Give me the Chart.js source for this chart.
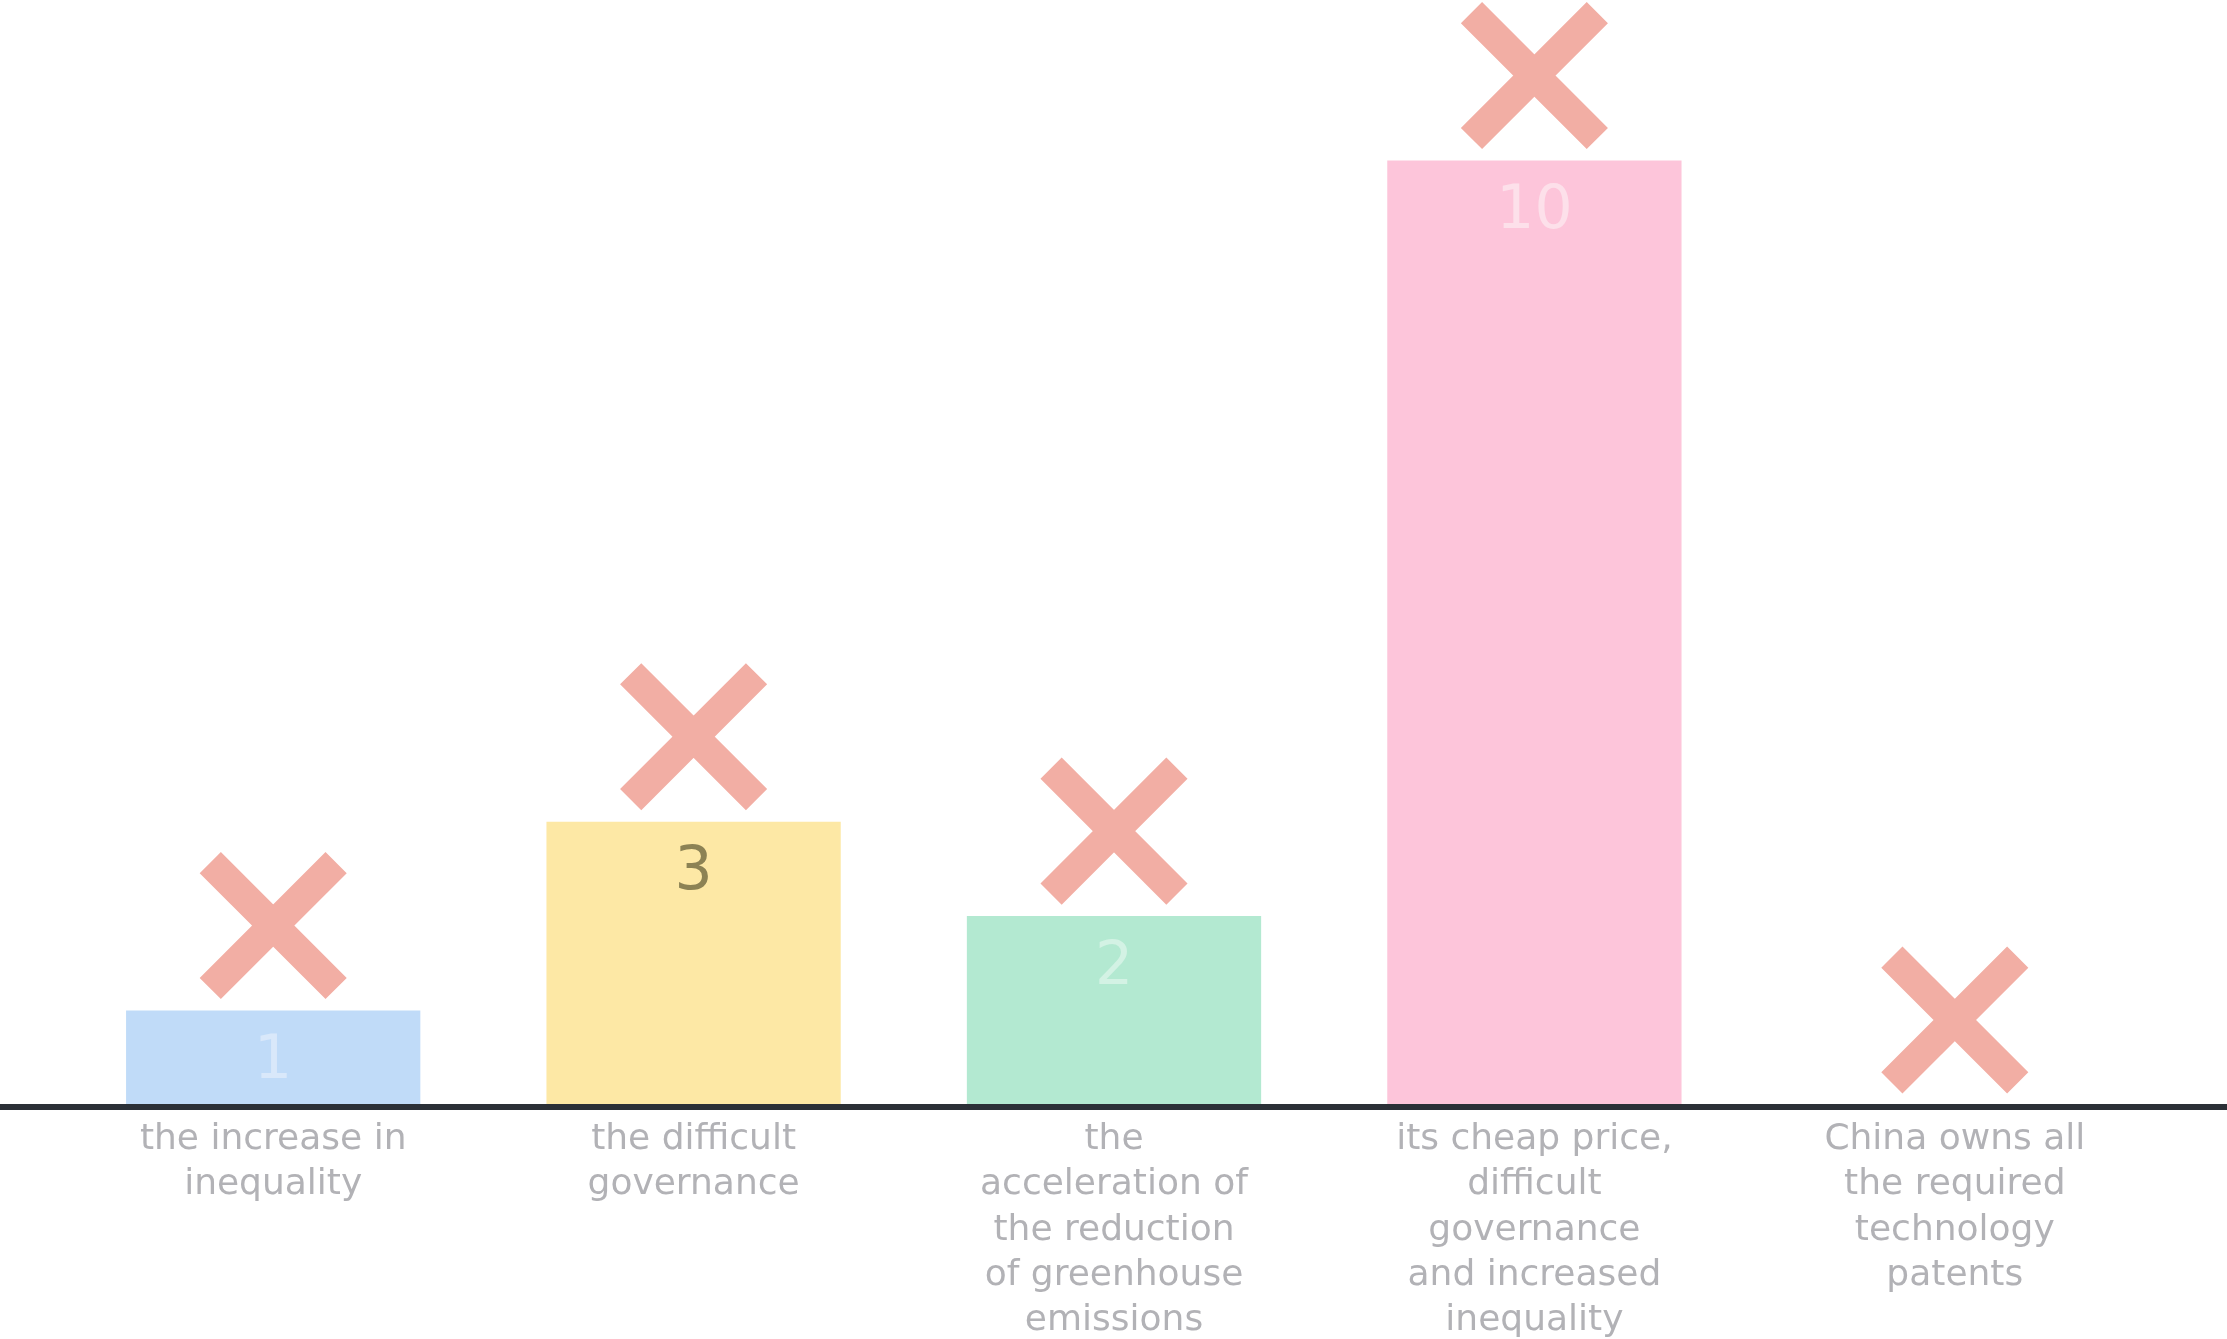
<!DOCTYPE html>
<html>
<head>
<meta charset="utf-8">
<script src="https://cdn.jsdelivr.net/npm/chart.js@4/dist/chart.umd.min.js"></script>
<style>
  html, body { margin: 0; padding: 0; background: #fff; }
  #wrap { width: 2227px; height: 1339px; }
</style>
</head>
<body>
<div id="wrap"><canvas id="quizChart"></canvas></div>
<script>
// answers, wrapped as in the picture
const categories = [
    ['the increase in', 'inequality'],
    ['the difficult', 'governance'],
    ['the', 'acceleration of', 'the reduction', 'of greenhouse', 'emissions'],
    ['its cheap price,', 'difficult', 'governance', 'and increased', 'inequality'],
    ['China owns all', 'the required', 'technology', 'patents']
];
const votes = [1, 3, 2, 10, 0];
// where the "wrong answer" crosses sit, in vote units
const markerLevels = [1.9, 3.9, 2.9, 10.9, 0.9];
const yMax = 11.7;

const barColors = ['#c0dbf8', '#fde8a5', '#b3e9d1', '#fdc5da'];
const valueColors = ['#d9e8fa', '#8c8254', '#d3f2e4', '#fde0ea'];

const baselinePlugin = {
    id: 'baseline',
    afterDatasetsDraw(chart) {
        const ctx = chart.ctx;
        const y = chart.scales.y.getPixelForValue(0) + 2;
        ctx.save();
        ctx.strokeStyle = '#2b3037';
        ctx.lineWidth = 6;
        ctx.beginPath();
        ctx.moveTo(0, y);
        ctx.lineTo(chart.width, y);
        ctx.stroke();
        ctx.restore();
    }
};

const valueLabelPlugin = {
    id: 'valueLabels',
    afterDatasetsDraw(chart) {
        const ctx = chart.ctx;
        const meta = chart.getDatasetMeta(1);
        ctx.save();
        ctx.font = '60px "DejaVu Sans", sans-serif';
        ctx.textAlign = 'center';
        ctx.textBaseline = 'middle';
        meta.data.forEach((bar, i) => {
            if (!votes[i]) return;
            ctx.fillStyle = valueColors[i % valueColors.length];
            ctx.fillText(String(votes[i]), bar.x, bar.y + 52);
        });
        ctx.restore();
    }
};

new Chart(document.getElementById('quizChart'), {
    data: {
        labels: categories,
        datasets: [
            {
                type: 'line',
                data: markerLevels,
                showLine: false,
                pointStyle: 'crossRot',
                pointRadius: 89,
                pointHoverRadius: 89,
                pointBorderWidth: 30,
                pointHoverBorderWidth: 30,
                pointBorderColor: '#f2aea4',
                pointBackgroundColor: '#f2aea4',
                clip: false,
                order: 0
            },
            {
                type: 'bar',
                data: votes,
                backgroundColor: barColors,
                borderWidth: 0,
                categoryPercentage: 1,
                barPercentage: 0.7,
                order: 1
            }
        ]
    },
    options: {
        responsive: true,
        maintainAspectRatio: false,
        animation: false,
        layout: { autoPadding: false, padding: { left: 63, right: 62, top: 0, bottom: 0 } },
        plugins: {
            legend: { display: false },
            title: { display: false },
            tooltip: { enabled: false }
        },
        scales: {
            x: {
                grid: { display: false, drawTicks: false },
                border: { display: false },
                ticks: {
                    color: '#b2b2b6',
                    font: { family: '"DejaVu Sans", sans-serif', size: 36, lineHeight: 1.26 },
                    padding: 12,
                    maxRotation: 0,
                    autoSkip: false
                },
                afterFit: scale => { scale.height = 234; }
            },
            y: {
                display: false,
                min: 0,
                max: yMax
            }
        }
    },
    plugins: [baselinePlugin, valueLabelPlugin]
});
</script>
</body>
</html>
